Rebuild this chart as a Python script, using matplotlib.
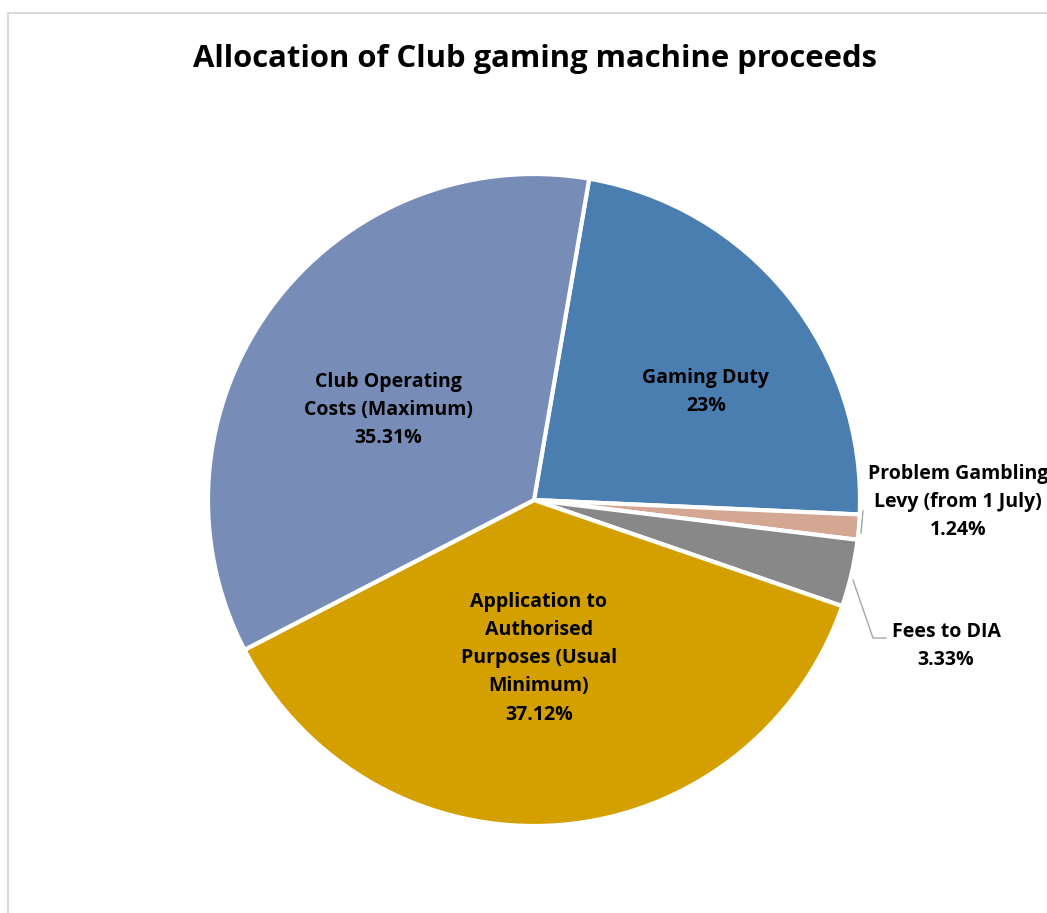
import matplotlib.pyplot as plt
from matplotlib.patches import Rectangle

categories = ["Gaming Duty", "Problem Gambling\nLevy (from 1 July)", "Fees to DIA",
              "Application to\nAuthorised\nPurposes (Usual\nMinimum)", "Club Operating\nCosts (Maximum)"]
values = [23, 1.24, 3.33, 37.12, 35.31]
pct_labels = ["23%", "1.24%", "3.33%", "37.12%", "35.31%"]
colors = ["#4a7eb0", "#d3a792", "#888888", "#d4a000", "#778db7"]

plt.rcParams['font.family'] = ['Open Sans', 'DejaVu Sans']

fig = plt.figure(figsize=(10.47, 9.13), dpi=100)

# chart area border (light gray)
fig.patches.append(Rectangle((8 / 1047, -0.01), 1.1, 1 - 13 / 913 + 0.01, transform=fig.transFigure,
                             fill=False, edgecolor="#d9d9d9", linewidth=1.5))

fig.text(0.511, 1 - 59 / 913, "Allocation of Club gaming machine proceeds",
         ha="center", va="center", fontsize=22.3, fontweight="bold")

# pie centred at (534, 500) px, radius 326 px
ax = fig.add_axes([(534 - 326) / 1047, 1 - (500 + 326) / 913, 652 / 1047, 652 / 913])
ax.pie(values, colors=colors, startangle=80.25, counterclock=False, radius=1,
       wedgeprops=dict(edgecolor="white", linewidth=3))
ax.set_xlim(-1, 1)
ax.set_ylim(-1, 1)
ax.set_aspect("equal")
ax.axis("off")


def px(x, y):
    return (x - 534) / 326, (500 - y) / 326


label_pos = [px(706, 392), px(958, 502), px(946, 646), px(539, 658), px(388, 410)]
for name, pct, pos in zip(categories, pct_labels, label_pos):
    ax.text(pos[0], pos[1], name + "\n" + pct, ha="center", va="center",
            fontsize=14, fontweight="bold", linespacing=1.55, clip_on=False)

# leader lines
lx, ly = zip(px(863, 511), px(861, 533))
ax.plot(lx, ly, color="#a6a6a6", linewidth=1, clip_on=False)
lx, ly = zip(px(853, 580), px(873, 638), px(886, 638))
ax.plot(lx, ly, color="#a6a6a6", linewidth=1, clip_on=False)

fig.savefig("out.png", dpi=100)
